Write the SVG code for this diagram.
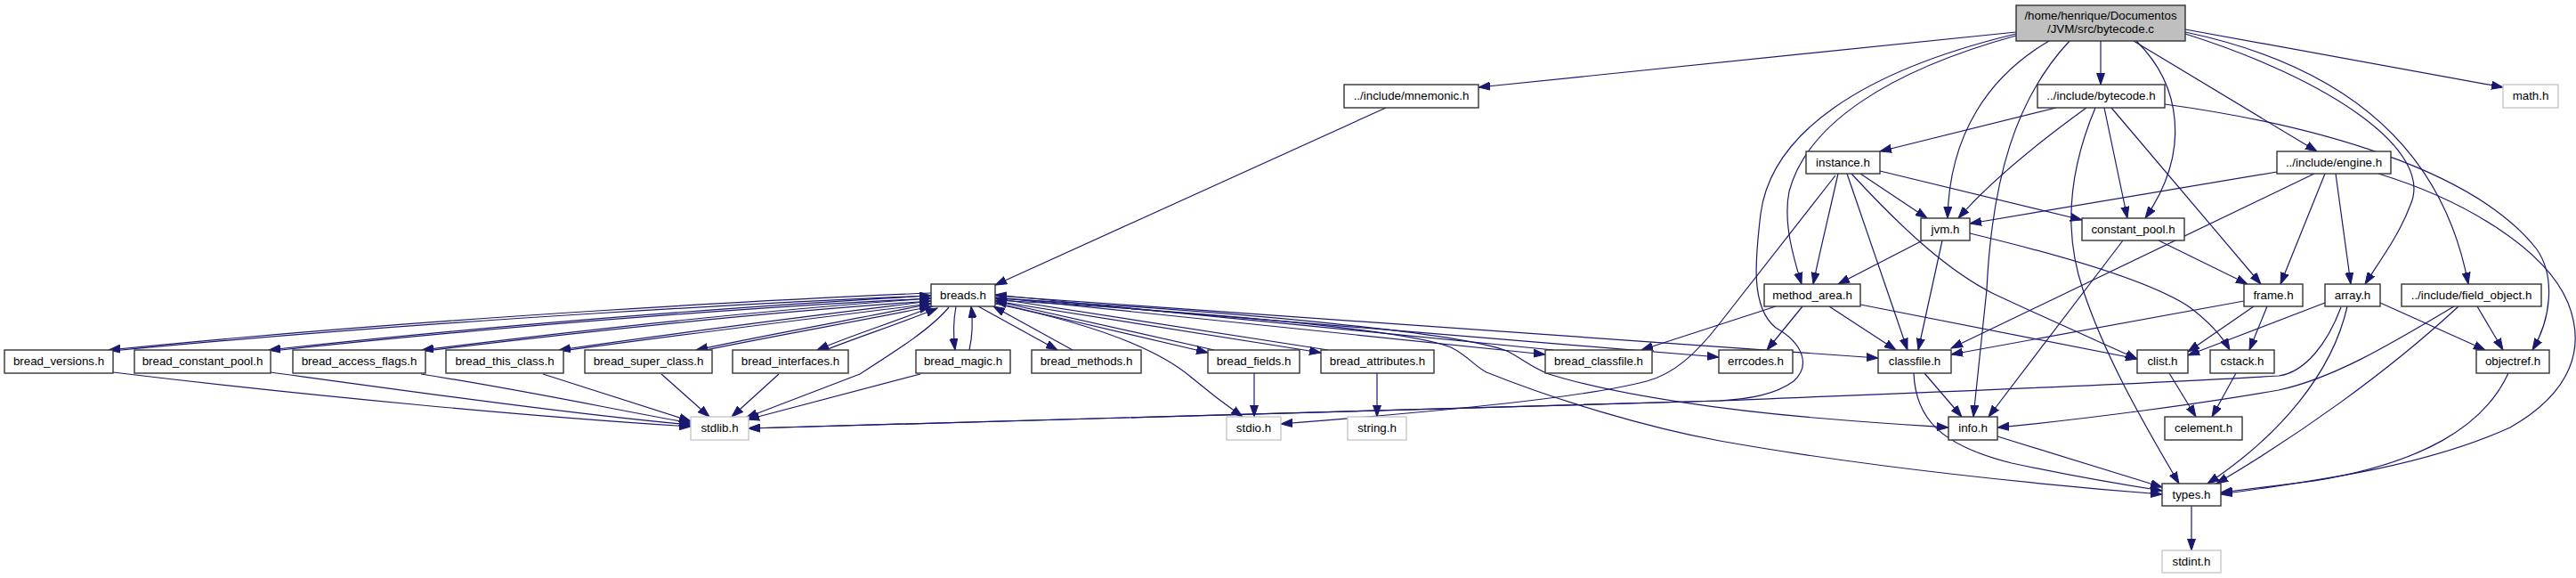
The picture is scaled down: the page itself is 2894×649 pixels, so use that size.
<svg xmlns="http://www.w3.org/2000/svg" width="2894" height="649" viewBox="0 0 2894 649">
<style>
.n rect{fill:#fff;stroke:#333;stroke-width:1.4}
.x rect{fill:#fff;stroke:#c8c8c8;stroke-width:1.4}
.m rect{fill:#bfbfbf;stroke:#333;stroke-width:1.4}
text{font-family:"Liberation Sans",Arial,sans-serif;font-size:13.33px;fill:#000;text-anchor:middle}
#edges path{fill:none;stroke:#191970;stroke-width:1.2;marker-end:url(#a)}
</style>
<defs>
<marker id="a" markerUnits="userSpaceOnUse" markerWidth="14" markerHeight="10" refX="13" refY="5" orient="auto" viewBox="0 0 14 10"><path d="M0,0.5 L13,5 L0,9.5 z" fill="#191970" stroke="#191970" stroke-width="1"/></marker>
</defs>
<rect width="2894" height="649" fill="#fff"/>
<g id="edges">
<path d="M2265,36 L1661,98"/>
<path d="M2360,46 L2360,95"/>
<path d="M2455,33 L2812,98"/>
<path d="M2397,46 L2603,170"/>
<path d="M2400,46 C2450,95 2462,170 2410,245"/>
<path d="M2455,38 C2620,90 2735,170 2708,230 C2695,265 2672,295 2657,319"/>
<path d="M2455,36 C2640,75 2745,170 2773,319"/>
<path d="M2302,46 C2235,85 2190,150 2188,245"/>
<path d="M2325,46 C2265,110 2238,200 2232,325 L2217,468"/>
<path d="M2265,40 C2120,80 2030,140 2010,215 C2003,250 2015,290 2024,319"/>
<path d="M2265,38 C2090,80 1990,150 1978,240 C1972,290 1966,345 1995,368 C2025,385 2035,410 2015,428 C1995,443 1965,448 1932,450 L841,481"/>
<path d="M1557,121 L1118,320"/>
<path d="M2310,121 L2112,170"/>
<path d="M2344,121 C2290,160 2235,205 2200,245"/>
<path d="M2354,121 C2325,190 2318,260 2340,325 C2365,400 2405,470 2448,543"/>
<path d="M2364,121 L2390,245"/>
<path d="M2372,121 L2540,319"/>
<path d="M2432,117 C2600,140 2780,190 2850,280 C2872,312 2865,360 2845,393"/>
<path d="M2672,195 C2770,225 2860,280 2885,340 C2905,390 2890,440 2820,480 C2720,525 2600,540 2495,555"/>
<path d="M2090,195 L2165,245"/>
<path d="M2112,192 L2339,247"/>
<path d="M2065,195 C2055,240 2045,280 2037,319"/>
<path d="M2075,195 L2143,393"/>
<path d="M2080,195 C2140,260 2190,305 2240,330 C2300,358 2350,380 2401,403"/>
<path d="M2062,197 L1932,363 C1905,398 1880,420 1850,428 C1780,446 1640,460 1439,476"/>
<path d="M2160,270 L2065,319"/>
<path d="M2182,270 L2155,393"/>
<path d="M2213,262 C2330,290 2420,318 2460,345 C2480,360 2495,375 2505,393"/>
<path d="M2385,270 L2234,468"/>
<path d="M2425,270 L2525,319"/>
<path d="M2558,193 L2213,251"/>
<path d="M2600,195 L2192,391"/>
<path d="M2612,195 L2562,319"/>
<path d="M2624,195 L2641,319"/>
<path d="M2025,344 L1985,393"/>
<path d="M2055,344 L2130,393"/>
<path d="M2090,342 L2401,403"/>
<path d="M1995,344 L1844,393"/>
<path d="M2521,338 L2192,398"/>
<path d="M2532,344 L2458,395"/>
<path d="M2547,344 L2527,393"/>
<path d="M2612,340 L2458,399"/>
<path d="M2637,344 C2620,420 2560,490 2480,543"/>
<path d="M2674,340 L2792,393"/>
<path d="M2630,345 C2615,385 2590,418 2560,422 C2400,432 2100,443 1932,450 L841,481"/>
<path d="M2783,344 L2812,393"/>
<path d="M2762,344 C2680,420 2580,490 2490,543"/>
<path d="M2757,344 C2680,390 2620,425 2560,438 C2480,452 2350,470 2244,480"/>
<path d="M2818,419 C2790,480 2720,520 2600,540 L2495,553"/>
<path d="M2437,419 L2467,468"/>
<path d="M2512,419 L2485,468"/>
<path d="M2162,419 L2204,468"/>
<path d="M2150,419 C2152,470 2180,500 2260,520 C2330,535 2390,545 2429,551"/>
<path d="M2244,490 L2429,547"/>
<path d="M2462,568 L2462,618"/>
<path d="M1118,334 L1931,401"/>
<path d="M1118,332 L2110,402"/>
<path d="M1118,335 C1400,350 1650,375 1695,395 C1710,403 1720,412 1740,420 C1820,445 1950,462 2050,470 C2120,476 2160,478 2189,480"/>
<path d="M1118,337 C1350,350 1580,370 1630,390 C1650,400 1655,410 1670,418 C1750,450 1850,480 1932,495 C2100,525 2300,545 2429,555"/>
<path d="M1118,334 L1736,398"/>
<path d="M1745,393 L1118,331"/>
<path d="M1118,338 L1484,396"/>
<path d="M1492,393 L1118,335"/>
<path d="M1118,340 L1357,396"/>
<path d="M1364,393 L1118,338"/>
<path d="M1099,344 L1188,393"/>
<path d="M1205,393 L1116,344"/>
<path d="M1074,344 C1071,360 1071,378 1073,393"/>
<path d="M1089,393 C1093,375 1093,360 1091,344"/>
<path d="M1066,345 C1045,370 1005,395 966,420 L838,469"/>
<path d="M1034,420 L840,471"/>
<path d="M1118,341 C1220,362 1300,390 1340,425 C1370,450 1385,460 1396,468"/>
<path d="M1409,419 L1409,468"/>
<path d="M1547,419 L1547,468"/>
<path d="M1046,329 C900,335 500,355 122,393"/>
<path d="M126,394 C500,358 900,338 1046,332"/>
<path d="M1046,332 C900,340 600,360 302,393"/>
<path d="M306,394 C600,362 900,342 1046,335"/>
<path d="M1046,335 C900,345 700,365 474,393"/>
<path d="M478,394 C700,367 900,348 1046,338"/>
<path d="M1046,338 C950,350 800,368 628,393"/>
<path d="M632,394 C800,371 950,353 1046,341"/>
<path d="M1046,341 C980,355 880,372 782,393"/>
<path d="M788,394 C880,375 980,358 1046,344"/>
<path d="M1048,344 C1010,360 960,375 918,393"/>
<path d="M925,394 C965,378 1015,362 1053,346"/>
<path d="M127,418 C350,445 600,468 776,479"/>
<path d="M304,418 C450,438 650,466 776,477"/>
<path d="M473,420 C600,440 700,462 776,475"/>
<path d="M610,420 L776,473"/>
<path d="M743,420 L797,468"/>
<path d="M875,420 L822,468"/>
</g>
<g id="n_main" class="m"><rect x="2265" y="6" width="190" height="40"/><text x="2360" y="22">/home/henrique/Documentos</text><text x="2360" y="37">/JVM/src/bytecode.c</text></g>
<g id="n_mnemonic" class="n"><rect x="1510" y="95" width="151" height="26"/><text x="1585.5" y="112">../include/mnemonic.h</text></g>
<g id="n_bytecode" class="n"><rect x="2289" y="95" width="143" height="26"/><text x="2360.5" y="112">../include/bytecode.h</text></g>
<g id="n_math" class="x"><rect x="2812" y="95" width="62" height="26"/><text x="2843" y="112">math.h</text></g>
<g id="n_instance" class="n"><rect x="2029" y="170" width="83" height="25"/><text x="2070.5" y="187">instance.h</text></g>
<g id="n_engine" class="n"><rect x="2558" y="170" width="128" height="25"/><text x="2622" y="187">../include/engine.h</text></g>
<g id="n_jvm" class="n"><rect x="2158" y="245" width="55" height="25"/><text x="2185.5" y="262">jvm.h</text></g>
<g id="n_constant_pool" class="n"><rect x="2339" y="245" width="115" height="25"/><text x="2396.5" y="262">constant_pool.h</text></g>
<g id="n_breads" class="n"><rect x="1046" y="319" width="72" height="25"/><text x="1082" y="336">breads.h</text></g>
<g id="n_method_area" class="n"><rect x="1982" y="319" width="108" height="25"/><text x="2036" y="336">method_area.h</text></g>
<g id="n_frame" class="n"><rect x="2521" y="319" width="66" height="25"/><text x="2554" y="336">frame.h</text></g>
<g id="n_array" class="n"><rect x="2612" y="319" width="62" height="25"/><text x="2643" y="336">array.h</text></g>
<g id="n_field_object" class="n"><rect x="2698" y="319" width="157" height="25"/><text x="2776.5" y="336">../include/field_object.h</text></g>
<g id="n_bread_versions" class="n"><rect x="5" y="393" width="122" height="26"/><text x="66" y="410">bread_versions.h</text></g>
<g id="n_bread_constant_pool" class="n"><rect x="151" y="393" width="153" height="26"/><text x="227.5" y="410">bread_constant_pool.h</text></g>
<g id="n_bread_access_flags" class="n"><rect x="329" y="393" width="149" height="26"/><text x="403.5" y="410">bread_access_flags.h</text></g>
<g id="n_bread_this_class" class="n"><rect x="501" y="393" width="132" height="26"/><text x="567" y="410">bread_this_class.h</text></g>
<g id="n_bread_super_class" class="n"><rect x="657" y="393" width="143" height="26"/><text x="728.5" y="410">bread_super_class.h</text></g>
<g id="n_bread_interfaces" class="n"><rect x="823" y="393" width="130" height="26"/><text x="888" y="410">bread_interfaces.h</text></g>
<g id="n_bread_magic" class="n"><rect x="1029" y="393" width="106" height="26"/><text x="1082" y="410">bread_magic.h</text></g>
<g id="n_bread_methods" class="n"><rect x="1159" y="393" width="123" height="26"/><text x="1220.5" y="410">bread_methods.h</text></g>
<g id="n_bread_fields" class="n"><rect x="1357" y="393" width="103" height="26"/><text x="1408.5" y="410">bread_fields.h</text></g>
<g id="n_bread_attributes" class="n"><rect x="1484" y="393" width="127" height="26"/><text x="1547.5" y="410">bread_attributes.h</text></g>
<g id="n_bread_classfile" class="n"><rect x="1736" y="393" width="120" height="26"/><text x="1796" y="410">bread_classfile.h</text></g>
<g id="n_errcodes" class="n"><rect x="1931" y="393" width="83" height="26"/><text x="1972.5" y="410">errcodes.h</text></g>
<g id="n_classfile" class="n"><rect x="2110" y="393" width="82" height="26"/><text x="2151" y="410">classfile.h</text></g>
<g id="n_clist" class="n"><rect x="2401" y="393" width="57" height="26"/><text x="2429.5" y="410">clist.h</text></g>
<g id="n_cstack" class="n"><rect x="2483" y="393" width="72" height="26"/><text x="2519" y="410">cstack.h</text></g>
<g id="n_objectref" class="n"><rect x="2782" y="393" width="82" height="26"/><text x="2823" y="410">objectref.h</text></g>
<g id="n_stdlib" class="x"><rect x="776" y="468" width="65" height="26"/><text x="808.5" y="485">stdlib.h</text></g>
<g id="n_stdio" class="x"><rect x="1378" y="468" width="61" height="26"/><text x="1408.5" y="485">stdio.h</text></g>
<g id="n_string" class="x"><rect x="1514" y="468" width="66" height="26"/><text x="1547" y="485">string.h</text></g>
<g id="n_info" class="n"><rect x="2189" y="468" width="55" height="26"/><text x="2216.5" y="485">info.h</text></g>
<g id="n_celement" class="n"><rect x="2432" y="468" width="87" height="26"/><text x="2475.5" y="485">celement.h</text></g>
<g id="n_types" class="n"><rect x="2429" y="543" width="66" height="25"/><text x="2462" y="560">types.h</text></g>
<g id="n_stdint" class="x"><rect x="2429" y="618" width="66" height="25"/><text x="2462" y="635">stdint.h</text></g>
</svg>
